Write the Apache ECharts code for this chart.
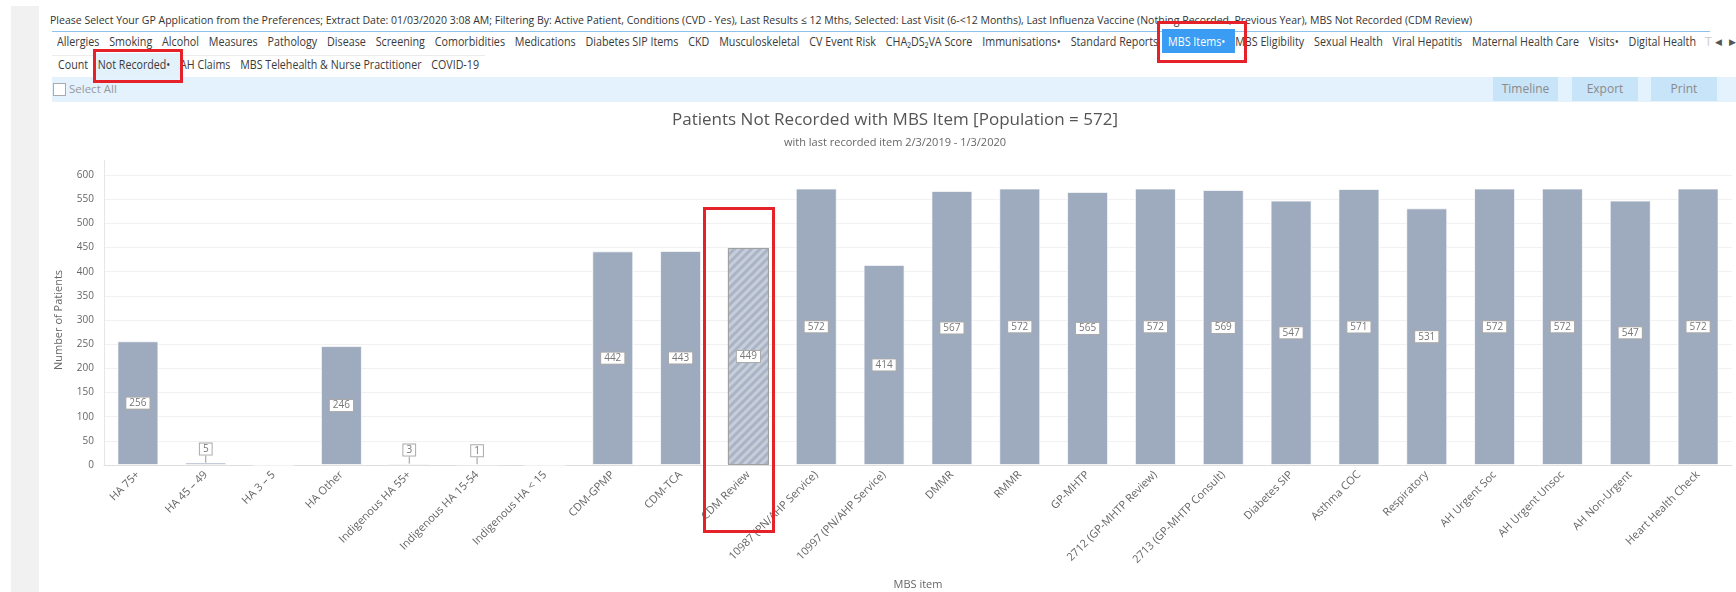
<!DOCTYPE html>
<html><head><meta charset="utf-8">
<script src="https://cdn.jsdelivr.net/npm/echarts@6/dist/echarts.min.js"></script>
<style>
html,body{margin:0;padding:0;}
body{width:1736px;height:592px;overflow:hidden;position:relative;background:#fff;font-family:"Open Sans",sans-serif;}
.abs{position:absolute;}
.row{position:absolute;white-space:nowrap;transform-origin:0 50%;font-size:12px;color:#3a3a3a;line-height:16px;}
.row span{display:inline-block;margin-right:11px;}
.btn{position:absolute;top:77px;height:24px;background:#c8e4f8;color:#8a8a8a;font-size:12px;line-height:24px;text-align:center;}
.red{position:absolute;border:3px solid #e5222a;box-sizing:border-box;z-index:10;pointer-events:none;}
</style></head><body>
<div class="abs" style="left:11px;top:6px;width:28px;height:586px;background:#f1f1f1"></div>
<div id="info" class="row" style="left:50px;top:12px;font-size:11px;color:#333;">Please Select Your GP Application from the Preferences; Extract Date: 01/03/2020 3:08 AM; Filtering By: Active Patient, Conditions (CVD - Yes), Last Results ≤ 12 Mths, Selected: Last Visit (6-&lt;12 Months), Last Influenza Vaccine (Nothing Recorded, Previous Year), MBS Not Recorded (CDM Review)</div>
<div class="abs" style="left:52px;top:31px;width:1658px;height:1px;background:#8cc2ee"></div>
<div class="abs" style="left:1162px;top:29px;width:73px;height:24px;background:#3a9cf2"></div>
<div class="abs" style="left:52px;top:55px;width:433px;height:1px;background:#ececec"></div>
<div class="abs" style="left:95px;top:53px;width:85px;height:24px;background:#e3f1fb"></div>
<div id="row1" class="row" style="left:57px;top:34px;"></div>
<div class="abs" style="left:1705px;top:34px;font-size:12px;line-height:16px;color:#ccc">T</div>
<div class="abs" style="left:1715px;top:34px;font-size:9px;line-height:16px;color:#555">◀</div>
<div class="abs" style="left:1729px;top:34px;font-size:9px;line-height:16px;color:#555">▶</div>
<div id="row2" class="row" style="left:58px;top:57px;"></div>
<div class="abs" style="left:52px;top:77px;width:1684px;height:25px;background:#e3f2fd"></div>
<div class="abs" style="left:53px;top:83px;width:11px;height:11px;border:1px solid #aaa;background:#fff"></div>
<div class="abs" style="left:69px;top:81px;font-size:11.5px;line-height:16px;color:#999">Select All</div>
<div class="btn" style="left:1493px;width:65px">Timeline</div>
<div class="btn" style="left:1572px;width:66px">Export</div>
<div class="btn" style="left:1651px;width:66px">Print</div>
<div id="chart" class="abs" style="left:52px;top:102px;width:1686px;height:490px;"></div>
<div class="red" style="left:1157px;top:21px;width:90px;height:42px"></div>
<div class="red" style="left:93px;top:49px;width:90px;height:34px"></div>
<div class="red" style="left:703px;top:207px;width:72px;height:326px"></div>
<script>
// ---- chart data ----
const categories = ['HA 75+', 'HA 45 – 49', 'HA 3 – 5', 'HA Other', 'Indigenous HA 55+', 'Indigenous HA 15-54', 'Indigenous HA < 15', 'CDM-GPMP', 'CDM-TCA', 'CDM Review', '10987 (PN/AHP Service)', '10997 (PN/AHP Service)', 'DMMR', 'RMMR', 'GP-MHTP', '2712 (GP-MHTP Review)', '2713 (GP-MHTP Consult)', 'Diabetes SIP', 'Asthma COC', 'Respiratory', 'AH Urgent Soc', 'AH Urgent Unsoc', 'AH Non-Urgent', 'Heart Health Check'];
const notRecorded = [256, 5, 0, 246, 3, 1, 0, 442, 443, 449, 572, 414, 567, 572, 565, 572, 569, 547, 571, 531, 572, 572, 547, 572];
const highlighted = 'CDM Review';
const yMin = 0, yMax = 600, yStep = 50;
const titleText = 'Patients Not Recorded with MBS Item [Population = 572]';
const subtitleText = 'with last recorded item 2/3/2019 - 1/3/2020';

// ---- page tabs ----
const tabs1 = ['Allergies','Smoking','Alcohol','Measures','Pathology','Disease','Screening','Comorbidities','Medications','Diabetes SIP Items','CKD','Musculoskeletal','CV Event Risk','CHA₂DS₂VA Score','Immunisations•','Standard Reports','MBS Items•','MBS Eligibility','Sexual Health','Viral Hepatitis','Maternal Health Care','Visits•','Digital Health'];
const tabs2 = ['Count','Not Recorded•','AH Claims','MBS Telehealth & Nurse Practitioner','COVID-19'];
function fillRow(id, list, activeName){
  const el = document.getElementById(id);
  list.forEach((t,i)=>{
    const s = document.createElement('span');
    s.textContent = t;
    if (t === activeName) s.style.color = '#fff';
    if (i === list.length-1) s.style.marginRight = '0';
    el.appendChild(s);
  });
}
fillRow('row1', tabs1, 'MBS Items•');
fillRow('row2', tabs2, null);
function fitWidth(id, w){
  const el = document.getElementById(id);
  const nat = el.getBoundingClientRect().width;
  el.style.transform = 'scaleX(' + (w/nat) + ')';
}
fitWidth('info', 1422);
fitWidth('row1', 1639);
fitWidth('row2', 421);

// ---- chart ----
const chart = echarts.init(document.getElementById('chart'));
const FONT = 'Open Sans';
chart.setOption({
  animation: false,
  title: {
    text: titleText, subtext: subtitleText, left: 'center', top: 5, itemGap: 8,
    textStyle: {fontSize: 17, fontWeight: 'normal', color: '#555', fontFamily: FONT},
    subtextStyle: {fontSize: 11, color: '#666', fontFamily: FONT}
  },
  grid: {left: 52, right: 6, top: 73, bottom: 127, containLabel: false, outerBoundsMode: 'none'},
  graphic: [{
    type: 'line', shape: {x1: 52.5, y1: 58, x2: 52.5, y2: 73},
    style: {stroke: '#e6e6e6', lineWidth: 1}, silent: true
  }],
  xAxis: {
    type: 'category', data: categories,
    name: 'MBS item', nameLocation: 'middle', nameGap: 114,
    nameTextStyle: {fontSize: 11, color: '#666', fontFamily: FONT},
    axisLine: {lineStyle: {color: '#dedede', width: 1}},
    axisTick: {alignWithLabel: true, length: 5, lineStyle: {color: '#cfcfcf'}},
    axisLabel: {rotate: 45, interval: 0, fontSize: 11, color: '#666', margin: 8, fontFamily: FONT}
  },
  yAxis: {
    type: 'value', min: yMin, max: yMax, interval: yStep,
    name: 'Number of Patients', nameLocation: 'middle', nameGap: 40,
    nameTextStyle: {fontSize: 11, color: '#666', fontFamily: FONT},
    axisLine: {show: true, lineStyle: {color: '#e6e6e6'}},
    axisTick: {show: false},
    axisLabel: {fontSize: 10, color: '#666', margin: 10, fontFamily: FONT},
    splitLine: {lineStyle: {color: '#f1f1f1'}}
  },
  series: [{
    type: 'bar',
    barWidth: 41,
    itemStyle: {color: '#9eaabe', borderColor: 'rgba(255,255,255,0.7)', borderWidth: 1},
    label: {
      show: true, position: 'inside', color: '#777', fontSize: 10, fontFamily: FONT,
      backgroundColor: '#fff', borderColor: '#aaa', borderWidth: 1, padding: [1, 3, 0, 3]
    },
    labelLine: {show: true, lineStyle: {color: '#999', width: 1}},
    labelLayout: function (p) {
      const v = notRecorded[p.dataIndex];
      return (v > 0 && v < 20) ? {dy: -8} : {};
    },
    data: notRecorded.map((v, i) => {
      const item = {value: v};
      if (v === 0) item.label = {show: false};
      else if (v < 20) item.label = {position: 'top', distance: 0};
      if (categories[i] === highlighted) {
        item.itemStyle = {
          color: '#a9b4c6', borderColor: '#a0a0a0', borderWidth: 1,
          decal: {symbol: 'rect', dashArrayX: [1, 0], dashArrayY: [3, 3], rotation: -Math.PI / 4, color: 'rgba(255,255,255,0.35)'}
        };
      }
      return item;
    })
  }]
});
</script>
</body></html>
